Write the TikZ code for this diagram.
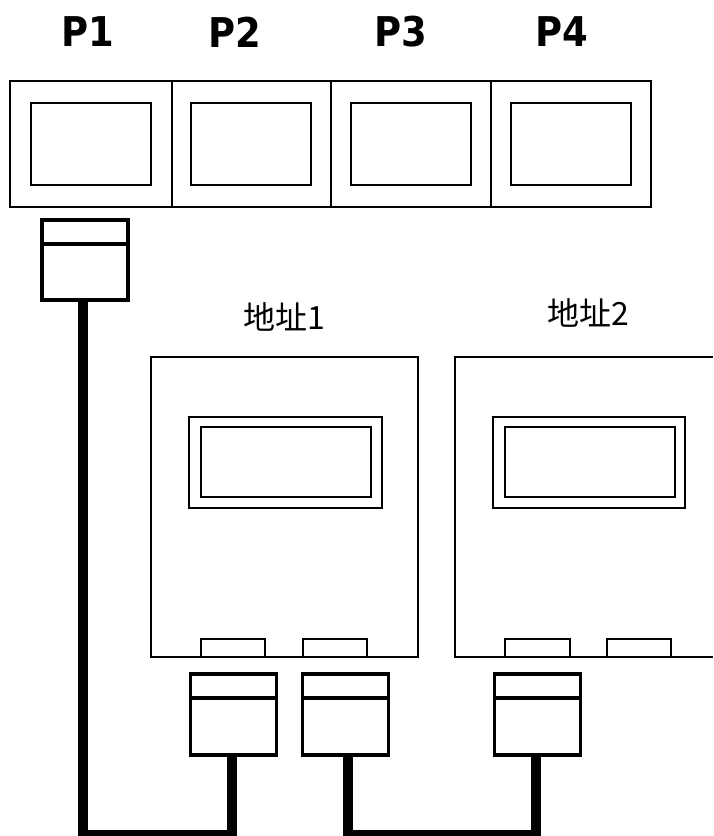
\documentclass[tikz,border=0pt]{standalone}
\usepackage{fontspec}
\setmainfont{Liberation Sans}
\newfontfamily\portfont{DejaVu Sans Condensed}
\newfontfamily\cjkfont{Noto Sans CJK SC}
\usetikzlibrary{positioning}

\tikzset{
    panel/.style={draw, line width=1.2pt, inner sep=0pt, outer sep=0pt, minimum width=#1},
    plug/.style={draw, line width=3.7pt, inner sep=0pt, outer sep=0pt, minimum width=86pt, minimum height=80pt},
    wire/.style={line width=9.5pt, line join=miter},
    portname/.style={font=\portfont\bfseries\fontsize{41}{41}\selectfont, inner sep=0pt},
    addrname/.style={font=\cjkfont\fontsize{32}{32}\selectfont, inner sep=0pt}
}

\begin{document}
\begin{tikzpicture}[x=1pt, y=-1pt]
    \useasboundingbox (0,0) rectangle (713,836);

    % Nhan cong P1..P4
    \node[portname] (nameA) at (87.5,32) {P1};
    \node[portname] (nameB) at (234.5,32) {P2};
    \node[portname] (nameC) at (400.5,32) {P3};
    \node[portname] (nameD) at (562,32) {P4};

    % Hang khung tren
    \node[panel=162pt, minimum height=126pt] (bayA) at (91,144) {};
    \node[panel=159pt, minimum height=126pt] (bayB) at (251.5,144) {};
    \node[panel=160pt, minimum height=126pt] (bayC) at (411,144) {};
    \node[panel=160pt, minimum height=126pt] (bayD) at (571,144) {};
    \node[panel=120pt, minimum height=82pt] (screenA) at (bayA.center) {};
    \node[panel=120pt, minimum height=82pt] (screenB) at (251,144) {};
    \node[panel=120pt, minimum height=82pt] (screenC) at (bayC.center) {};
    \node[panel=120pt, minimum height=82pt] (screenD) at (bayD.center) {};

    % Thiet bi dia chi 1
    \node[addrname] (addrA) at (284,317) {地址1};
    \node[panel=267pt, minimum height=300pt] (devA) at (284.5,507) {};
    \node[panel=193pt, minimum height=91pt] (frameA) at (285.5,462.5) {};
    \node[panel=170pt, minimum height=70pt] (lcdA) at (286,462) {};
    \node[panel=64pt, minimum height=18pt] (portA) at (233,648) {};
    \node[panel=64pt, minimum height=18pt] (portB) at (335,648) {};

    % Thiet bi dia chi 2 (bi cat o canh phai)
    \node[addrname] (addrB) at (588,313) {地址2};
    \coordinate (devBa) at (713,357);
    \coordinate (devBb) at (455,357);
    \coordinate (devBc) at (455,657);
    \coordinate (devBd) at (713,657);
    \draw[line width=1.2pt] (devBa) -- (devBb) -- (devBc) -- (devBd);
    \node[panel=192pt, minimum height=91pt] (frameB) at (589,462.5) {};
    \node[panel=170pt, minimum height=70pt] (lcdB) at (590,462) {};
    \node[panel=65pt, minimum height=18pt] (portC) at (537.5,648) {};
    \node[panel=64pt, minimum height=18pt] (portD) at (639,648) {};

    % Cac dau noi
    \node[plug] (plugP) at (85,260) {};
    \node[plug, minimum height=81pt] (plugA) at (233.5,714.5) {};
    \node[plug, minimum height=81pt] (plugB) at (345.5,714.5) {};
    \node[plug, minimum height=81pt] (plugC) at (537.5,714.5) {};
    \foreach \p in {plugP, plugA, plugB, plugC} {
        \draw[line width=3.7pt] ([yshift=-24pt]\p.north west) -- ([yshift=-24pt]\p.north east);
    }

    % Day noi
    \coordinate (cornerA) at (83,835);
    \coordinate (cornerB) at (232,835);
    \coordinate (cornerC) at (348,835);
    \coordinate (cornerD) at (536,835);
    \draw[wire] (plugP.south -| cornerA) -- (cornerA) -- (cornerB) -- (plugA.south -| cornerB);
    \draw[wire] (plugB.south -| cornerC) -- (cornerC) -- (cornerD) -- (plugC.south -| cornerD);
\end{tikzpicture}
\end{document}
